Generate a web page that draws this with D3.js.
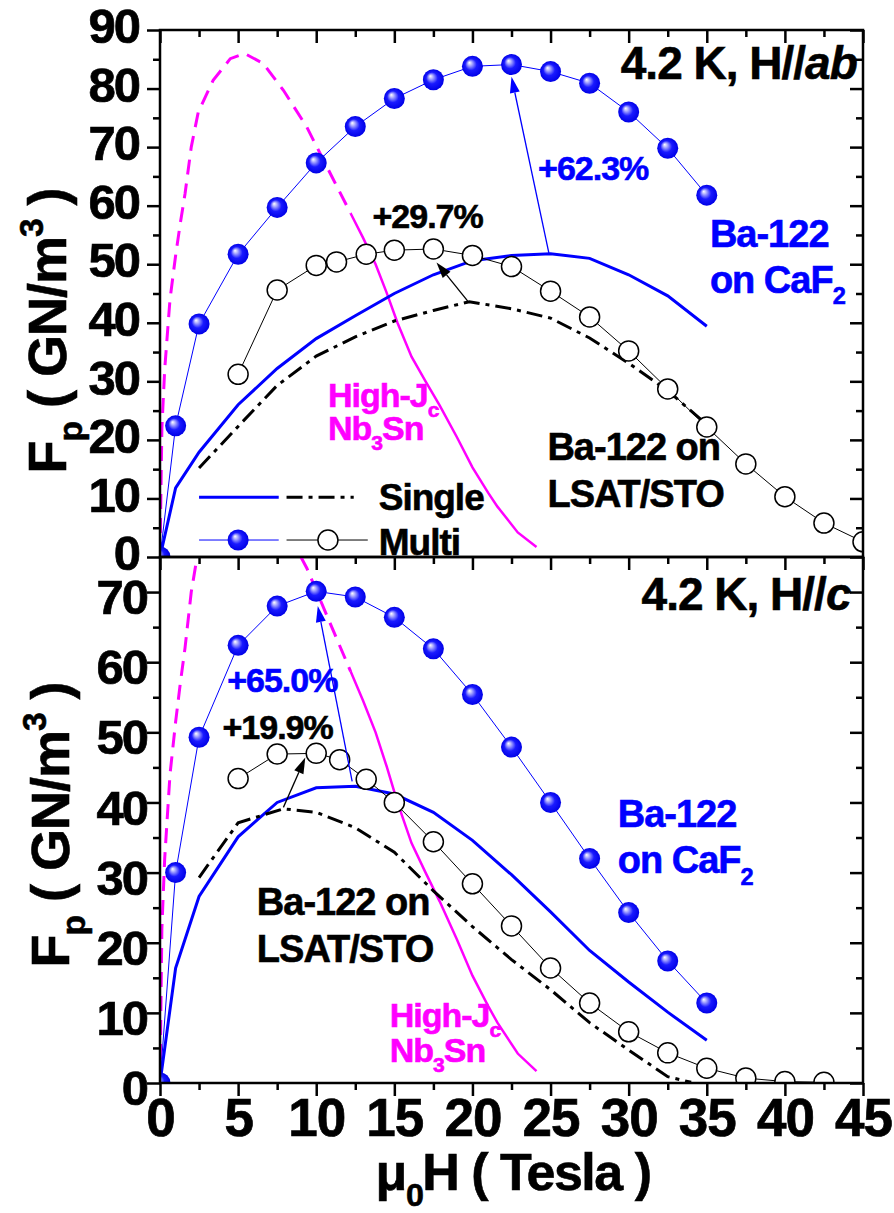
<!DOCTYPE html>
<html>
<head>
<meta charset="utf-8">
<script src="https://cdn.jsdelivr.net/npm/d3@7"></script>
<style>
  body { margin: 0; background: #fff; }
  svg text { font-family: "Liberation Sans", Arial, sans-serif; font-weight: bold; }
</style>
</head>
<body>
<svg id="chart" width="894" height="1213"></svg>
<script>
// field axis (Tesla)
var fieldTicks = [0, 5, 10, 15, 20, 25, 30, 35, 40, 45];
var fieldMinor = [2.5, 7.5, 12.5, 17.5, 22.5, 27.5, 32.5, 37.5, 42.5];

// high-Jc Nb3Sn reference curve, same in both panels (dashed part is the extrapolated low field part)
var nb3snLow = [[0,0],[0.12,22],[0.3,32],[0.64,44],[1.0,51.5],[1.3,57],[1.6,62],[2.0,70],[2.45,76],
  [3.4,81.4],[4.5,85.1],[5.4,86],[6.6,84.3],[7.9,79.7],[9.4,73.4],[10.9,65.5],[12.2,58.7]];
var nb3snHigh = [[12.2,58.7],[13.0,54.5],[13.8,50],[14.5,45.2],[15.2,40],[16.1,34.2],[17.0,30],
  [17.9,25.9],[19.0,20.5],[20.0,15.3],[21.0,11],[21.6,8.6],[22.9,4.2],[24.1,1.7]];

// H//ab
var abMultiCaF2 = [[0,0],[1,22.4],[2.5,39.8],[5,51.7],[7.5,59.7],[10,67.3],[12.5,73.5],[15,78.3],
  [17.5,81.5],[20,83.8],[22.5,84.1],[25,82.9],[27.5,80.9],[30,76.0],[32.5,69.8],[35,61.8]];
var abMultiLsat = [[5,31.2],[7.5,45.6],[10,49.8],[11.3,50.4],[13.2,51.7],[15,52.4],[17.5,52.6],
  [20,51.5],[22.5,49.6],[25,45.4],[27.5,41.0],[30,35.2],[32.5,28.7],[35,22.2],[37.5,15.9],
  [40,10.3],[42.5,5.8],[45,2.6]];
var abSingleCaF2 = [[0,0],[1,11.8],[2.5,17.9],[5,26.0],[7.5,32.2],[10,37.3],[12.5,41.2],[15,45.0],
  [17.5,48.2],[20,50.6],[22.5,51.5],[25,51.8],[27.5,51.0],[30,48.2],[32.5,44.6],[35,39.4]];
var abSingleLsat = [[2.5,15.2],[5,22.3],[7.5,29.3],[10,34.3],[12.5,37.6],[15,40.3],[17.5,42.1],
  [19.8,43.6],[22.5,42.4],[25,40.8],[27.5,37.4],[30,33.1],[32.5,28.4],[35,22.6]];

// H//c
var cMultiCaF2 = [[0,0],[1,30.0],[2.5,49.3],[5,62.4],[7.5,68.0],[10,70.1],[12.5,69.3],[15,66.4],
  [17.5,61.9],[20,55.4],[22.5,47.9],[25,40.0],[27.5,32.0],[30,24.3],[32.5,17.4],[35,11.4]];
var cMultiLsat = [[5,43.4],[7.5,46.9],[10,47.0],[11.5,46.1],[13.2,43.3],[15,40.0],[17.5,34.4],
  [20,28.4],[22.5,22.4],[25,16.4],[27.5,11.4],[30,7.3],[32.5,4.3],[35,2.1],[37.5,0.7],
  [40,0.2],[42.5,0.1]];
var cSingleCaF2 = [[0,0],[1,16.4],[2.5,26.6],[5,35.1],[7.5,40.0],[10,42.1],[12.5,42.3],[15,41.2],
  [17.5,38.6],[20,34.6],[22.5,29.7],[25,24.4],[27.5,18.9],[30,14.4],[32.5,10.1],[35,6.1]];
var cSingleLsat = [[2.5,29.3],[5,37.1],[7.9,39.1],[10,38.6],[12.5,36.4],[15,32.9],[17.5,27.4],
  [20,22.3],[22.5,17.6],[25,13.3],[27.5,8.6],[30,4.7],[32.5,0.9],[34,0.1]];

// enhancement arrows: from single-layer peak to multilayer point
var abArrows = [[[24.9,51.8],[22.5,82.0],"blue"],[[19.7,43.7],[17.7,50.3],"black"]];
var cArrows  = [[[12.3,43.0],[10.1,68.0],"blue"],[[7.9,39.3],[9.3,46.4],"black"]];

var BLUE = "#0000ff", MAGENTA = "#ff00ff";

var svg = d3.select("#chart");
var x = d3.scaleLinear().domain([0, 45]).range([160, 863]);

var defs = svg.append("defs");
var grad = defs.append("radialGradient").attr("id", "ball")
  .attr("cx", "50%").attr("cy", "50%").attr("r", "50%").attr("fx", "35%").attr("fy", "32%");
grad.append("stop").attr("offset", "0%").attr("stop-color", "#ffffff");
grad.append("stop").attr("offset", "18%").attr("stop-color", "#b8b8ff");
grad.append("stop").attr("offset", "55%").attr("stop-color", "#1a1aff");
grad.append("stop").attr("offset", "100%").attr("stop-color", "#0000e6");

function richText(g, px, py, parts, size, color, anchor) {
  var t = g.append("text").attr("x", px).attr("y", py)
    .attr("font-size", size).attr("fill", color).attr("letter-spacing", -1)
    .attr("stroke", color).attr("stroke-width", 0.6)
    .attr("text-anchor", anchor || "start");
  var shift = 0;
  parts.forEach(function(p) {
    var dy = 0, fs = null;
    if (p.sub) { dy = size * 0.3; fs = size * 0.62; }
    if (p.sup) { dy = -size * 0.42; fs = size * 0.62; }
    t.append("tspan").attr("dy", dy - shift).attr("font-size", fs)
      .attr("font-style", p.it ? "italic" : null).text(p.t);
    shift = dy;
  });
  return t;
}

function drawPanel(cfg) {
  var y = d3.scaleLinear().domain([0, cfg.max]).range([cfg.bottom, cfg.top]);
  var g = svg.append("g");
  var clipId = "clip" + cfg.name;
  defs.append("clipPath").attr("id", clipId).append("rect")
    .attr("x", x(0)).attr("y", cfg.top).attr("width", x(45) - x(0)).attr("height", cfg.bottom - cfg.top);
  var plot = g.append("g").attr("clip-path", "url(#" + clipId + ")");
  var line = d3.line().x(d => x(d[0])).y(d => y(d[1]));

  plot.append("path").attr("d", line(nb3snLow)).attr("fill", "none")
    .attr("stroke", MAGENTA).attr("stroke-width", 3).attr("stroke-dasharray", "15,9");
  plot.append("path").attr("d", line(nb3snHigh)).attr("fill", "none")
    .attr("stroke", MAGENTA).attr("stroke-width", 2.5);
  plot.append("path").attr("d", line(cfg.singleCaF2)).attr("fill", "none")
    .attr("stroke", BLUE).attr("stroke-width", 3);
  plot.append("path").attr("d", line(cfg.singleLsat)).attr("fill", "none")
    .attr("stroke", "#000").attr("stroke-width", 3).attr("stroke-dasharray", "16,6,4,6");
  plot.append("path").attr("d", line(cfg.multiCaF2)).attr("fill", "none")
    .attr("stroke", BLUE).attr("stroke-width", 1);
  plot.append("path").attr("d", line(cfg.multiLsat)).attr("fill", "none")
    .attr("stroke", "#000").attr("stroke-width", 1);

  plot.selectAll("circle.open").data(cfg.multiLsat).join("circle").attr("class", "open")
    .attr("cx", d => x(d[0])).attr("cy", d => y(d[1])).attr("r", 10)
    .attr("fill", "#fff").attr("stroke", "#000").attr("stroke-width", 1.5);
  plot.selectAll("circle.ball").data(cfg.multiCaF2).join("circle").attr("class", "ball")
    .attr("cx", d => x(d[0])).attr("cy", d => y(d[1])).attr("r", 10.5)
    .attr("fill", "url(#ball)");

  // arrows
  cfg.arrows.forEach(function(a) {
    var col = a[2] === "blue" ? BLUE : "#000";
    var x0 = x(a[0][0]), y0 = y(a[0][1]), x1 = x(a[1][0]), y1 = y(a[1][1]);
    var ang = Math.atan2(y1 - y0, x1 - x0), len = 16, hw = 5;
    var bx = x1 - len * Math.cos(ang), by = y1 - len * Math.sin(ang);
    g.append("line").attr("x1", x0).attr("y1", y0).attr("x2", bx).attr("y2", by)
      .attr("stroke", col).attr("stroke-width", 1.3);
    g.append("path").attr("fill", col).attr("d",
      "M" + x1 + "," + y1 +
      "L" + (bx + hw * Math.sin(ang)) + "," + (by - hw * Math.cos(ang)) +
      "L" + (bx - hw * Math.sin(ang)) + "," + (by + hw * Math.cos(ang)) + "Z");
  });

  // axes
  var axes = g.append("g");
  var styleAxis = function(sel) {
    sel.select(".domain").remove();
    sel.selectAll(".tick line").attr("stroke", "#000").attr("stroke-width", 2.5);
    sel.selectAll("text").attr("fill", "#000").attr("stroke", "#000").attr("stroke-width", 0.7);
  };
  axes.append("g").attr("transform", "translate(" + x(0) + ",0)")
    .call(d3.axisLeft(y).tickValues(cfg.majors).tickSize(13).tickPadding(cfg.labelPad).tickSizeOuter(0))
    .call(styleAxis)
    .call(s => s.selectAll("text").attr("font-size", 49).attr("letter-spacing", -2).attr("dy", cfg.labelDy));
  axes.append("g").attr("transform", "translate(" + x(0) + ",0)")
    .call(d3.axisLeft(y).tickValues(cfg.minors).tickSize(7).tickFormat("")).call(styleAxis);
  axes.append("g").attr("transform", "translate(" + x(45) + ",0)")
    .call(d3.axisRight(y).tickValues(cfg.majors).tickSize(-13).tickFormat("")).call(styleAxis);
  axes.append("g").attr("transform", "translate(" + x(45) + ",0)")
    .call(d3.axisRight(y).tickValues(cfg.minors).tickSize(-7).tickFormat("")).call(styleAxis);
  axes.append("g").attr("transform", "translate(0," + cfg.top + ")")
    .call(d3.axisTop(x).tickValues(fieldTicks).tickSize(-13).tickFormat("")).call(styleAxis);
  axes.append("g").attr("transform", "translate(0," + cfg.top + ")")
    .call(d3.axisTop(x).tickValues(fieldMinor).tickSize(-7).tickFormat("")).call(styleAxis);
  if (cfg.xLabels) {
    axes.append("g").attr("transform", "translate(0," + cfg.bottom + ")")
      .call(d3.axisBottom(x).tickValues(fieldTicks).tickSize(13).tickPadding(2))
      .call(styleAxis)
      .call(s => s.selectAll("text").attr("font-size", 53).attr("letter-spacing", -1));
    axes.append("g").attr("transform", "translate(0," + cfg.bottom + ")")
      .call(d3.axisBottom(x).tickValues(fieldMinor).tickSize(7).tickFormat("")).call(styleAxis);
  }
  axes.append("rect").attr("x", x(0)).attr("y", cfg.top)
    .attr("width", x(45) - x(0)).attr("height", cfg.bottom - cfg.top)
    .attr("fill", "none").attr("stroke", "#000").attr("stroke-width", 2.5);

  // y title
  richText(g, 0, 0, [{t: "F"}, {t: "p", sub: true}, {t: " ( GN/m"}, {t: "3", sup: true}, {t: " )"}], 54, "#000", "middle")
    .attr("transform", "translate(" + cfg.titleX + "," + cfg.titleY + ") rotate(-90)");

  cfg.notes.forEach(function(n) {
    richText(g, x(n.x), y(n.y), n.parts, n.size, n.color, n.anchor);
  });
  return {g: g, y: y};
}

var panelAb = drawPanel({
  name: "ab", top: 30, bottom: 557, max: 90,
  majors: d3.range(0, 91, 10), minors: d3.range(5, 90, 10),
  labelPad: 8, labelDy: "0.26em", xLabels: false,
  titleX: 66, titleY: 331,
  multiCaF2: abMultiCaF2, multiLsat: abMultiLsat, singleCaF2: abSingleCaF2, singleLsat: abSingleLsat,
  arrows: abArrows,
  notes: [
    {x: 44.6, y: 81.6, size: 46, color: "#000", anchor: "end", parts: [{t: "4.2 K, H//"}, {t: "ab", it: true}]},
    {x: 24.2, y: 64.4, size: 34, color: BLUE, parts: [{t: "+62.3%"}]},
    {x: 13.6, y: 56.2, size: 34, color: "#000", parts: [{t: "+29.7%"}]},
    {x: 35.2, y: 52.9, size: 38, color: BLUE, parts: [{t: "Ba-122"}]},
    {x: 35.2, y: 45.1, size: 38, color: BLUE, parts: [{t: "on CaF"}, {t: "2", sub: true}]},
    {x: 10.75, y: 25.6, size: 34, color: MAGENTA, parts: [{t: "High-J"}, {t: "c", sub: true}]},
    {x: 10.75, y: 20.0, size: 34, color: MAGENTA, parts: [{t: "Nb"}, {t: "3", sub: true}, {t: "Sn"}]},
    {x: 24.8, y: 16.6, size: 38, color: "#000", parts: [{t: "Ba-122 on"}]},
    {x: 24.8, y: 8.5, size: 38, color: "#000", parts: [{t: "LSAT/STO"}]},
    {x: 14.0, y: 8.0, size: 37, color: "#000", parts: [{t: "Single"}]},
    {x: 14.0, y: 0.4, size: 37, color: "#000", parts: [{t: "Multi"}]}
  ]
});

// legend (top panel)
var legY1 = 10.2, legY2 = 2.9, yAb = panelAb.y;
panelAb.g.append("line").attr("x1", x(2.5)).attr("x2", x(7.6)).attr("y1", yAb(legY1)).attr("y2", yAb(legY1))
  .attr("stroke", BLUE).attr("stroke-width", 3);
panelAb.g.append("line").attr("x1", x(8.1)).attr("x2", x(12.4)).attr("y1", yAb(legY1)).attr("y2", yAb(legY1))
  .attr("stroke", "#000").attr("stroke-width", 3).attr("stroke-dasharray", "16,6,4,6");
panelAb.g.append("line").attr("x1", x(2.5)).attr("x2", x(7.6)).attr("y1", yAb(legY2)).attr("y2", yAb(legY2))
  .attr("stroke", BLUE).attr("stroke-width", 1);
panelAb.g.append("line").attr("x1", x(8.1)).attr("x2", x(13.3)).attr("y1", yAb(legY2)).attr("y2", yAb(legY2))
  .attr("stroke", "#000").attr("stroke-width", 1);
panelAb.g.append("circle").attr("cx", x(5.0)).attr("cy", yAb(legY2)).attr("r", 10.5).attr("fill", "url(#ball)");
panelAb.g.append("circle").attr("cx", x(10.75)).attr("cy", yAb(legY2)).attr("r", 10)
  .attr("fill", "#fff").attr("stroke", "#000").attr("stroke-width", 1.5);

var panelC = drawPanel({
  name: "c", top: 557, bottom: 1083, max: 75,
  majors: d3.range(0, 71, 10), minors: d3.range(5, 70, 10),
  labelPad: 0, labelDy: "0.44em", xLabels: true,
  titleX: 69, titleY: 825,
  multiCaF2: cMultiCaF2, multiLsat: cMultiLsat, singleCaF2: cSingleCaF2, singleLsat: cSingleLsat,
  arrows: cArrows,
  notes: [
    {x: 44.2, y: 67.4, size: 46, color: "#000", anchor: "end", parts: [{t: "4.2 K, H//"}, {t: "c", it: true}]},
    {x: 4.3, y: 55.75, size: 34, color: BLUE, parts: [{t: "+65.0%"}]},
    {x: 4.0, y: 49.0, size: 34, color: "#000", parts: [{t: "+19.9%"}]},
    {x: 29.3, y: 36.5, size: 38, color: BLUE, parts: [{t: "Ba-122"}]},
    {x: 29.3, y: 29.9, size: 38, color: BLUE, parts: [{t: "on CaF"}, {t: "2", sub: true}]},
    {x: 6.2, y: 24.0, size: 38, color: "#000", parts: [{t: "Ba-122 on"}]},
    {x: 6.2, y: 17.3, size: 38, color: "#000", parts: [{t: "LSAT/STO"}]},
    {x: 14.7, y: 8.0, size: 34, color: MAGENTA, parts: [{t: "High-J"}, {t: "c", sub: true}]},
    {x: 14.7, y: 3.0, size: 34, color: MAGENTA, parts: [{t: "Nb"}, {t: "3", sub: true}, {t: "Sn"}]}
  ]
});

// x title
richText(svg, 513, 1190, [{t: "\u03bc"}, {t: "0", sub: true}, {t: "H ( Tesla )"}], 52, "#000", "middle")
  .attr("letter-spacing", -1.5);
</script>
</body>
</html>
